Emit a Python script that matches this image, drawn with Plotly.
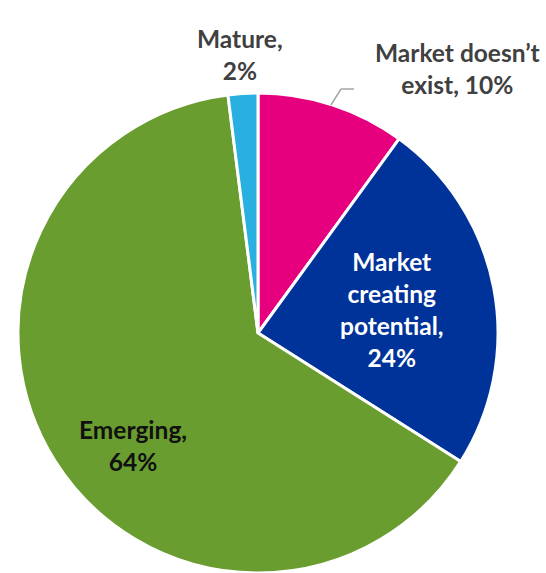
import plotly.graph_objects as go

W, H = 546, 573

categories = ["Market doesn’t exist", "Market creating potential", "Emerging", "Mature"]
values = [10, 24, 64, 2]
label_texts = ["Market doesn’t<br>exist, 10%", "Market<br>creating<br>potential,<br>24%", "Emerging,<br>64%", "Mature,<br>2%"]
colors = ["#E6007E", "#003399", "#6A9D2F", "#29B0E0"]
text_colors = ["#404040", "#FFFFFF", "#111111", "#404040"]
# label centres in pixels
label_px = [(457, 69), (392, 309), (133, 445), (240, 55)]

cx, cy, r = 258, 333, 240

fig = go.Figure(go.Pie(
    labels=categories, values=values, sort=False, direction="clockwise", rotation=0,
    marker=dict(colors=colors, line=dict(color="white", width=3)),
    textinfo="none", hoverinfo="label+percent", showlegend=False,
    domain=dict(x=[(cx - r) / W, (cx + r) / W], y=[1 - (cy + r) / H, 1 - (cy - r) / H]),
))

for t, c, (px, py) in zip(label_texts, text_colors, label_px):
    fig.add_annotation(text="<b>" + t + "</b>", x=px / W, y=1 - py / H, xref="paper", yref="paper",
                       showarrow=False, font=dict(family="Lato", size=24.5, color=c),
                       align="center", xanchor="center", yanchor="middle")

# leader line for "Market doesn't exist"
pts = [(331, 105), (341, 89), (354, 89)]
for (x0, y0), (x1, y1) in zip(pts[:-1], pts[1:]):
    fig.add_shape(type="line", xref="paper", yref="paper", x0=x0 / W, y0=1 - y0 / H, x1=x1 / W, y1=1 - y1 / H,
                  line=dict(color="#A6A6A6", width=1.5))

fig.update_layout(width=W, height=H, margin=dict(l=0, r=0, t=0, b=0),
                  paper_bgcolor="white", plot_bgcolor="white")
fig.write_html("out.html")
